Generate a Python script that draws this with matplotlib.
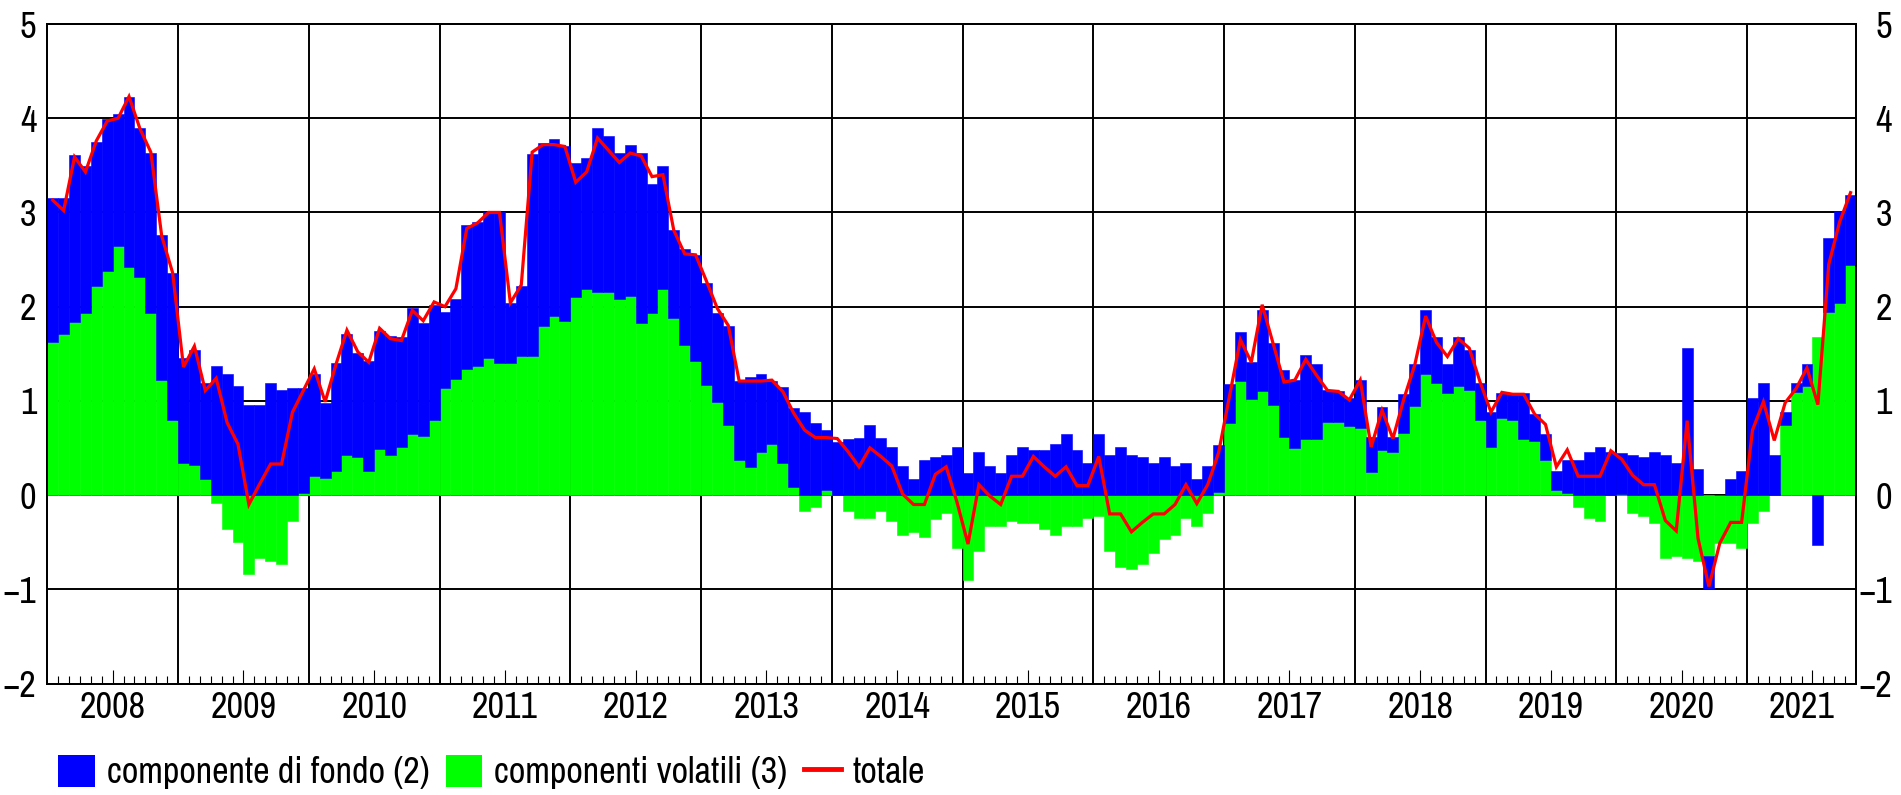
import numpy as np
import matplotlib
matplotlib.use('Agg')
import matplotlib.pyplot as plt
from matplotlib.patches import Patch
from matplotlib.lines import Line2D
import matplotlib.transforms as mtransforms
from matplotlib import font_manager as fm

# pick a narrow Arial-like face if one is installed
have = set(f.name for f in fm.fontManager.ttflist)
prefs = ['Liberation Sans Narrow', 'Arial Narrow', 'Nimbus Sans Narrow', 'Archivo Narrow',
         'PT Sans Narrow', 'Roboto Condensed', 'Liberation Sans']
narrow = [p for p in prefs if p in have]
plt.rcParams['font.family'] = narrow + ['DejaVu Sans']
FS = 26

# monthly data, Jan 2008 - Oct 2021
years = [2008, 2009, 2010, 2011, 2012, 2013, 2014, 2015, 2016, 2017, 2018, 2019, 2020, 2021]

fondo = [
  1.53, 1.44, 1.77, 1.56, 1.53, 1.61, 1.40, 1.81, 1.59, 1.70, 1.54, 1.56,   # 2008
  1.11, 1.22, 1.02, 1.37, 1.29, 1.16, 0.96, 0.96, 1.19, 1.12, 1.14, 1.12,   # 2009
  1.08, 0.80, 1.14, 1.28, 1.11, 1.16, 1.25, 1.26, 1.17, 1.34, 1.20, 1.22,   # 2010
  0.80, 0.85, 1.53, 1.53, 1.55, 1.60, 0.64, 0.74, 2.14, 1.95, 1.88, 1.85,   # 2011
  1.42, 1.39, 1.74, 1.65, 1.55, 1.61, 1.80, 1.37, 1.30, 0.93, 1.02, 1.13,   # 2012
  1.08, 0.94, 1.05, 0.84, 0.95, 0.82, 0.67, 0.81, 0.83, 0.88, 0.77, 0.64,   # 2013
  0.56, 0.60, 0.61, 0.74, 0.61, 0.51, 0.31, 0.17, 0.37, 0.40, 0.43, 0.51,   # 2014
  0.23, 0.46, 0.31, 0.23, 0.43, 0.51, 0.48, 0.48, 0.54, 0.65, 0.48, 0.34,   # 2015
  0.65, 0.43, 0.51, 0.43, 0.40, 0.34, 0.40, 0.31, 0.34, 0.17, 0.31, 0.50,   # 2016
  0.42, 0.52, 0.39, 0.86, 0.65, 0.71, 0.72, 0.90, 0.80, 0.33, 0.32, 0.30,   # 2017
  0.51, 0.37, 0.45, 0.16, 0.41, 0.44, 0.67, 0.49, 0.31, 0.52, 0.43, 0.39,   # 2018
  0.37, 0.26, 0.28, 0.48, 0.29, 0.28, 0.21, 0.35, 0.37, 0.46, 0.51, 0.46,   # 2019
  0.44, 0.43, 0.40, 0.46, 0.43, 0.34, 1.56, 0.28, -0.35, 0.00, 0.17, 0.26,  # 2020
  1.03, 1.19, 0.43, 0.14, 0.10, 0.23, -0.53, 0.79, 0.97, 0.74,              # 2021
]

volatili = [
  1.62, 1.71, 1.84, 1.93, 2.22, 2.38, 2.64, 2.42, 2.31, 1.93, 1.22, 0.80,
  0.34, 0.32, 0.17, -0.08, -0.36, -0.50, -0.84, -0.67, -0.70, -0.73, -0.27, 0.02,
  0.20, 0.18, 0.26, 0.43, 0.40, 0.26, 0.49, 0.43, 0.51, 0.65, 0.63, 0.80,
  1.14, 1.23, 1.34, 1.37, 1.45, 1.40, 1.40, 1.48, 1.48, 1.79, 1.90, 1.85,
  2.10, 2.19, 2.16, 2.16, 2.08, 2.11, 1.83, 1.93, 2.19, 1.88, 1.59, 1.42,
  1.17, 0.99, 0.74, 0.37, 0.30, 0.46, 0.54, 0.34, 0.09, -0.17, -0.13, 0.05,
  0.00, -0.17, -0.24, -0.24, -0.17, -0.27, -0.42, -0.39, -0.44, -0.25, -0.19, -0.56,
  -0.90, -0.59, -0.33, -0.33, -0.27, -0.30, -0.30, -0.36, -0.42, -0.33, -0.33, -0.24,
  -0.22, -0.59, -0.76, -0.78, -0.73, -0.61, -0.47, -0.42, -0.24, -0.33, -0.19, 0.03,
  0.76, 1.21, 1.02, 1.10, 0.96, 0.62, 0.50, 0.59, 0.59, 0.78, 0.78, 0.73,
  0.71, 0.25, 0.48, 0.46, 0.66, 0.95, 1.29, 1.19, 1.08, 1.16, 1.11, 0.80,
  0.51, 0.82, 0.80, 0.60, 0.57, 0.37, 0.05, 0.02, -0.13, -0.24, -0.27, 0.00,
  0.01, -0.19, -0.22, -0.30, -0.67, -0.65, -0.67, -0.70, -0.65, -0.51, -0.51, -0.56,
  -0.30, -0.17, 0.00, 0.74, 1.09, 1.16, 1.68, 1.94, 2.04, 2.44,
]

totale = [
  3.13, 3.02, 3.59, 3.43, 3.76, 3.97, 4.00, 4.23, 3.89, 3.64, 2.75, 2.36,
  1.36, 1.58, 1.11, 1.24, 0.77, 0.54, -0.10, 0.12, 0.33, 0.33, 0.88, 1.11,
  1.34, 0.99, 1.39, 1.75, 1.52, 1.41, 1.77, 1.66, 1.64, 1.96, 1.85, 2.05,
  2.00, 2.19, 2.83, 2.89, 3.00, 3.00, 2.04, 2.23, 3.64, 3.72, 3.72, 3.70,
  3.32, 3.43, 3.79, 3.66, 3.53, 3.63, 3.60, 3.38, 3.40, 2.81, 2.56, 2.55,
  2.27, 1.98, 1.80, 1.21, 1.21, 1.21, 1.22, 1.10, 0.87, 0.69, 0.61, 0.61,
  0.60, 0.46, 0.30, 0.50, 0.41, 0.31, 0.01, -0.10, -0.10, 0.22, 0.30, -0.08,
  -0.52, 0.11, -0.01, -0.10, 0.20, 0.20, 0.41, 0.30, 0.20, 0.30, 0.10, 0.10,
  0.41, -0.20, -0.20, -0.39, -0.29, -0.20, -0.20, -0.10, 0.11, -0.09, 0.11, 0.45,
  1.05, 1.65, 1.41, 2.02, 1.61, 1.20, 1.22, 1.44, 1.27, 1.11, 1.10, 1.01,
  1.22, 0.51, 0.90, 0.60, 1.02, 1.38, 1.90, 1.62, 1.47, 1.66, 1.56, 1.20,
  0.88, 1.09, 1.07, 1.07, 0.86, 0.75, 0.30, 0.48, 0.20, 0.20, 0.20, 0.47,
  0.38, 0.21, 0.11, 0.11, -0.27, -0.38, 0.79, -0.46, -0.97, -0.51, -0.29, -0.29,
  0.69, 0.99, 0.58, 0.98, 1.13, 1.35, 0.96, 2.45, 2.90, 3.21,
]

legend_labels = ['componente di fondo (2)', 'componenti volatili (3)', 'totale']

BLUE = '#0000ff'
GREEN = '#00ff00'
RED = '#ff0000'

fondo = np.array(fondo)
volatili = np.array(volatili)
totale = np.array(totale)
n = len(totale)
x = np.arange(n) + 0.5

# stacking: positives upward from 0, negatives downward from 0
bottom_blue = np.where(fondo >= 0, np.maximum(volatili, 0), np.minimum(volatili, 0))

W, H = 1901, 795
fig = plt.figure(figsize=(W/100, H/100), dpi=100)
x0, x1, ytop, ybot = 47.3, 1856, 24, 683.5
ax = fig.add_axes([x0/W, 1-ybot/H, (x1-x0)/W, (ybot-ytop)/H])

ax.bar(x, volatili, width=1, color=GREEN, edgecolor=GREEN, linewidth=0.4, zorder=2)
ax.bar(x, fondo, width=1, bottom=bottom_blue, color=BLUE, edgecolor=BLUE, linewidth=0.4, zorder=2)
ax.plot(x, totale, color=RED, lw=2.3, zorder=4, solid_joinstyle='miter')

ax.set_xlim(0, n)
ax.set_ylim(-2, 5)

# grid
for yy in range(-1, 5):
  ax.axhline(yy, color='black', lw=1.4, zorder=1)
for k in range(1, len(years)):
  ax.axvline(12*k, color='black', lw=1.4, zorder=1)
for s in ax.spines.values():
  s.set_linewidth(1.4)
  s.set_color('black')

# x ticks: long at mid-year, short at each month
mid = [12*k + 6 for k in range(len(years)) if 12*k + 6 < n]
months = [m for m in range(1, n) if m % 6 != 0]
ax.set_xticks(mid)
ax.set_xticks(months, minor=True)
ax.tick_params(axis='x', which='major', direction='in', length=10, width=0.8, labelbottom=False)
ax.tick_params(axis='x', which='minor', direction='in', length=5.8, width=0.8)

trans = mtransforms.blended_transform_factory(ax.transData, ax.transAxes)
for k, yr in enumerate(years):
  a = 12*k
  b = min(12*k + 12, n)
  ax.text((a+b)/2, -0.037, str(yr), transform=trans, ha='center', va='center', fontsize=FS)

# y ticks both sides
ax.set_yticks(range(-2, 6))
ax.tick_params(axis='y', length=0, pad=8, labelsize=FS)
ax2 = ax.twinx()
ax2.set_ylim(-2, 5)
ax2.set_yticks(range(-2, 6))
ax2.tick_params(axis='y', length=0, pad=26, labelsize=FS)
for lab in ax2.get_yticklabels():
  lab.set_horizontalalignment('right')
for s in ax2.spines.values():
  s.set_linewidth(1.4)

handles = [Patch(facecolor=BLUE, edgecolor='none'),
           Patch(facecolor=GREEN, edgecolor='none'),
           Line2D([0], [0], color=RED, lw=3.5)]
fig.legend(handles, legend_labels, loc='center left', bbox_to_anchor=(58/W, 1-772/H),
           ncol=3, frameon=False, fontsize=FS, borderpad=0, borderaxespad=0,
           handlelength=1.02, handleheight=1.0, handletextpad=0.33, columnspacing=0.45)

fig.savefig('out.png', dpi=100)
